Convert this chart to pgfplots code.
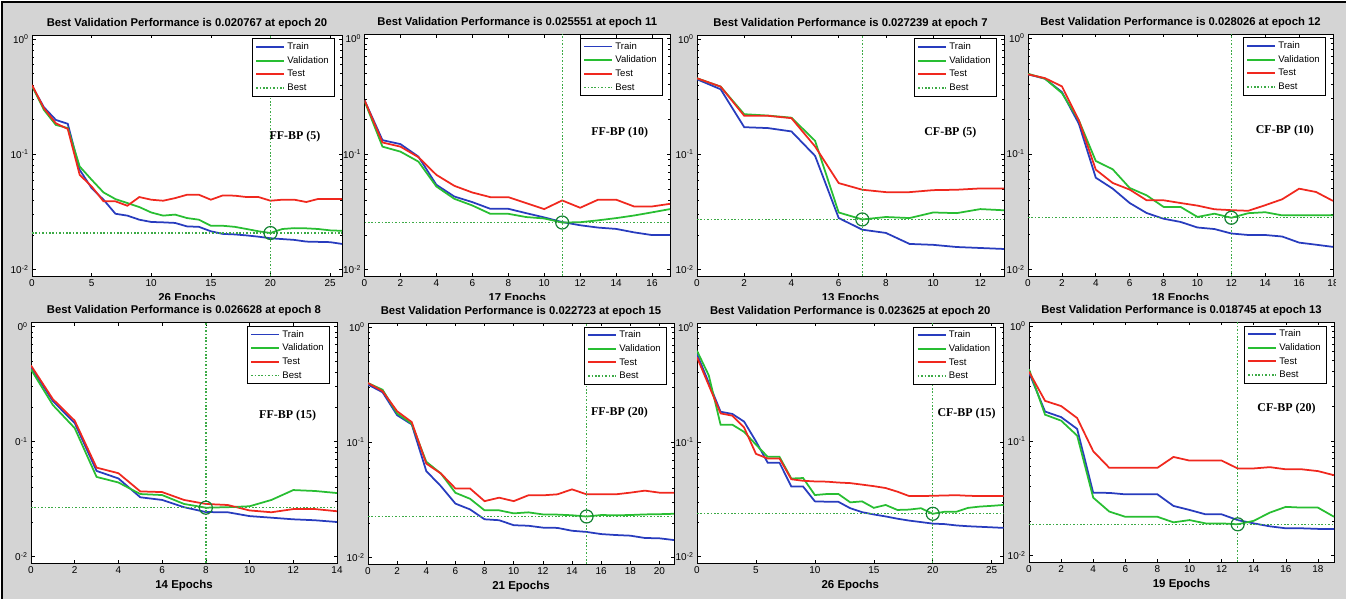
\documentclass[border=0pt]{standalone}
\usepackage{fontspec}
\setmainfont{Liberation Sans}
\newfontfamily\annfont{Liberation Serif}
\usepackage{pgfplots}
\pgfplotsset{compat=1.18}
\definecolor{bgc}{RGB}{212,212,212}
\definecolor{trc}{RGB}{40,60,190}
\definecolor{vac}{RGB}{40,190,50}
\definecolor{tec}{RGB}{240,40,30}
\definecolor{bec}{RGB}{60,170,70}
\definecolor{cic}{RGB}{20,130,50}
\pgfplotsset{
  trainline/.style={color=trc, line width=1.75bp},
  valline/.style={color=vac, line width=1.75bp},
  testline/.style={color=tec, line width=1.75bp},
  bestline/.style={color=bec, line width=1.35bp, dash pattern=on 1.6bp off 1.8bp},
  bestcirc/.style={only marks, mark=o, mark size=6.5bp, mark options={color=cic, line width=1.2bp, solid}},
}
\newcommand{\ann}[3]{\node[font=\annfont\bfseries\fontsize{12}{14}\selectfont] at (axis cs:#1,#2) {#3};}
\begin{document}
\begin{tikzpicture}
\useasboundingbox (0bp,0bp) rectangle (1346bp,599bp);
\fill[white] (0bp,0bp) rectangle (1346bp,599bp);
\fill[bgc] (2bp,0bp) rectangle (1346bp,597bp);
% ---------- P1 ----------
\begin{axis}[scale only axis, anchor=south west, at={(32bp,323bp)}, width=310bp, height=241bp,
  axis background/.style={fill=white},
  ymode=log, ymin=0.0088, ymax=1.085, xmin=0, xmax=26, xtick={0,5,...,25},
  ytick={0.01,0.1,1}, yticklabels={10\textsuperscript{-2},10\textsuperscript{-1},10\textsuperscript{0}},
  minor ytick={0.02,0.03,0.04,0.05,0.06,0.07,0.08,0.09,0.2,0.3,0.4,0.5,0.6,0.7,0.8,0.9},
  /pgf/number format/assume math mode=true,
  tick label style={font=\fontsize{10}{12}\selectfont},
  major tick length=3.5bp, minor tick length=2bp,
  every tick/.style={black, line width=0.6bp}, axis line style={black, line width=0.7bp},
  title style={font=\bfseries\fontsize{11.3}{13}\selectfont, yshift=-3bp},
  xlabel style={font=\bfseries\fontsize{11.5}{13}\selectfont},
  legend cell align=left,
  legend style={at={(1,1)}, anchor=north east, xshift=-7.5bp, yshift=-3.5bp, draw=black, line width=1bp, fill=white, font=\fontsize{9.6}{11}\selectfont, inner xsep=3bp, inner ysep=1.5bp, nodes={inner sep=2.3bp, text height=7bp, text depth=2bp}},
  legend image code/.code={\draw[#1] (0bp,0.25bp) -- (28bp,0.25bp);},
  title={Best Validation Performance is 0.020767 at epoch 20}, xlabel={26 Epochs}]
\addplot[trainline] coordinates {(0,0.392)(1,0.256)(2,0.199)(3,0.184)(4,0.0734)(5,0.0509)(6,0.0404)(7,0.0305)(8,0.0294)(9,0.0271)(10,0.0259)(11,0.0257)(12,0.0254)(13,0.0237)(14,0.0235)(15,0.0215)(16,0.0204)(17,0.0202)(18,0.0198)(19,0.0193)(20,0.0187)(21,0.0184)(22,0.0181)(23,0.0175)(24,0.0174)(25,0.0173)(26,0.0167)};
\addplot[valline] coordinates {(0,0.392)(1,0.243)(2,0.180)(3,0.169)(4,0.0785)(5,0.0602)(6,0.0467)(7,0.0409)(8,0.0378)(9,0.0349)(10,0.0313)(11,0.0294)(12,0.0300)(13,0.0280)(14,0.0271)(15,0.0240)(16,0.0240)(17,0.0235)(18,0.0225)(19,0.0215)(20,0.020767)(21,0.0225)(22,0.0229)(23,0.0228)(24,0.0225)(25,0.0219)(26,0.0217)};
\addplot[testline] coordinates {(0,0.40)(1,0.251)(2,0.186)(3,0.166)(4,0.0664)(5,0.0527)(6,0.0391)(7,0.0391)(8,0.0358)(9,0.0426)(10,0.0404)(11,0.0396)(12,0.0417)(13,0.0446)(14,0.0446)(15,0.0404)(16,0.0440)(17,0.0438)(18,0.0426)(19,0.0426)(20,0.0396)(21,0.0404)(22,0.0404)(23,0.0386)(24,0.0410)(25,0.0410)(26,0.0410)};
\addplot[bestline] coordinates {(0,0.020767)(26,0.020767)};
\addplot[bestline, forget plot] coordinates {(20,0.0088)(20,1.085)};
\addplot[bestcirc, forget plot] coordinates {(20,0.020767)};
\legend{Train,Validation,Test,Best}
\ann{22.05}{0.143}{FF-BP (5)}
\end{axis}
% ---------- P2 ----------
\begin{axis}[scale only axis, anchor=south west, at={(364.5bp,323bp)}, width=305.5bp, height=241.5bp,
  axis background/.style={fill=white},
  ymode=log, ymin=0.0088, ymax=1.085, xmin=0, xmax=17, xtick={0,2,...,16},
  ytick={0.01,0.1,1}, yticklabels={10\textsuperscript{-2},10\textsuperscript{-1},10\textsuperscript{0}},
  minor ytick={0.02,0.03,0.04,0.05,0.06,0.07,0.08,0.09,0.2,0.3,0.4,0.5,0.6,0.7,0.8,0.9},
  /pgf/number format/assume math mode=true,
  tick label style={font=\fontsize{10}{12}\selectfont},
  major tick length=3.5bp, minor tick length=2bp,
  every tick/.style={black, line width=0.6bp}, axis line style={black, line width=0.7bp},
  title style={font=\bfseries\fontsize{11.3}{13}\selectfont, yshift=-3bp},
  xlabel style={font=\bfseries\fontsize{11.5}{13}\selectfont},
  legend cell align=left,
  legend style={at={(1,1)}, anchor=north east, xshift=-7.5bp, yshift=-3.5bp, draw=black, line width=1bp, fill=white, font=\fontsize{9.6}{11}\selectfont, inner xsep=3bp, inner ysep=1.5bp, nodes={inner sep=2.3bp, text height=7bp, text depth=2bp}},
  legend image code/.code={\draw[#1] (0bp,0.25bp) -- (28bp,0.25bp);},
  title={Best Validation Performance is 0.025551 at epoch 11}, xlabel={17 Epochs}]
\addplot[trainline] coordinates {(0,0.293)(1,0.132)(2,0.122)(3,0.0951)(4,0.0542)(5,0.0429)(6,0.0384)(7,0.0336)(8,0.0336)(9,0.0308)(10,0.0283)(11,0.0258)(12,0.0242)(13,0.0231)(14,0.0225)(15,0.0210)(16,0.0199)(17,0.0199)};
\addplot[valline] coordinates {(0,0.288)(1,0.116)(2,0.105)(3,0.0861)(4,0.0524)(5,0.0410)(6,0.0359)(7,0.0304)(8,0.0304)(9,0.0285)(10,0.0277)(11,0.025551)(12,0.0257)(13,0.0267)(14,0.0279)(15,0.0294)(16,0.0313)(17,0.0334)};
\addplot[testline] coordinates {(0,0.293)(1,0.126)(2,0.116)(3,0.094)(4,0.0661)(5,0.0531)(6,0.0465)(7,0.0424)(8,0.0424)(9,0.0376)(10,0.0334)(11,0.0397)(12,0.0343)(13,0.0403)(14,0.0403)(15,0.0352)(16,0.0352)(17,0.0371)};
\addplot[bestline] coordinates {(0,0.025551)(17,0.025551)};
\addplot[bestline, forget plot] coordinates {(11,0.0088)(11,1.085)};
\addplot[bestcirc, forget plot] coordinates {(11,0.025551)};
\legend{Train,Validation,Test,Best}
\ann{14.2}{0.154}{FF-BP (10)}
\end{axis}
% ---------- P3 ----------
\begin{axis}[scale only axis, anchor=south west, at={(697bp,323bp)}, width=307bp, height=241bp,
  axis background/.style={fill=white},
  ymode=log, ymin=0.0088, ymax=1.085, xmin=0, xmax=13, xtick={0,2,...,12},
  ytick={0.01,0.1,1}, yticklabels={10\textsuperscript{-2},10\textsuperscript{-1},10\textsuperscript{0}},
  minor ytick={0.02,0.03,0.04,0.05,0.06,0.07,0.08,0.09,0.2,0.3,0.4,0.5,0.6,0.7,0.8,0.9},
  /pgf/number format/assume math mode=true,
  tick label style={font=\fontsize{10}{12}\selectfont},
  major tick length=3.5bp, minor tick length=2bp,
  every tick/.style={black, line width=0.6bp}, axis line style={black, line width=0.7bp},
  title style={font=\bfseries\fontsize{11.3}{13}\selectfont, yshift=-3bp},
  xlabel style={font=\bfseries\fontsize{11.5}{13}\selectfont},
  legend cell align=left,
  legend style={at={(1,1)}, anchor=north east, xshift=-7.5bp, yshift=-3.5bp, draw=black, line width=1bp, fill=white, font=\fontsize{9.6}{11}\selectfont, inner xsep=3bp, inner ysep=1.5bp, nodes={inner sep=2.3bp, text height=7bp, text depth=2bp}},
  legend image code/.code={\draw[#1] (0bp,0.25bp) -- (28bp,0.25bp);},
  title={Best Validation Performance is 0.027239 at epoch 7}, xlabel={13 Epochs}]
\addplot[trainline] coordinates {(0,0.448)(1,0.367)(2,0.172)(3,0.169)(4,0.158)(5,0.0970)(6,0.0280)(7,0.0222)(8,0.0208)(9,0.0167)(10,0.0164)(11,0.0157)(12,0.0154)(13,0.0151)};
\addplot[valline] coordinates {(0,0.457)(1,0.387)(2,0.223)(3,0.217)(4,0.208)(5,0.131)(6,0.0313)(7,0.027239)(8,0.0286)(9,0.0280)(10,0.0313)(11,0.0309)(12,0.0335)(13,0.0327)};
\addplot[testline] coordinates {(0,0.457)(1,0.387)(2,0.216)(3,0.216)(4,0.206)(5,0.117)(6,0.0563)(7,0.0493)(8,0.0470)(9,0.0470)(10,0.0489)(11,0.0493)(12,0.0506)(13,0.0506)};
\addplot[bestline] coordinates {(0,0.027239)(13,0.027239)};
\addplot[bestline, forget plot] coordinates {(7,0.0088)(7,1.085)};
\addplot[bestcirc, forget plot] coordinates {(7,0.027239)};
\legend{Train,Validation,Test,Best}
\ann{10.73}{0.155}{CF-BP (5)}
\end{axis}
% ---------- P4 ----------
\begin{axis}[scale only axis, anchor=south west, at={(1028bp,323bp)}, width=305bp, height=242bp,
  axis background/.style={fill=white},
  ymode=log, ymin=0.0088, ymax=1.085, xmin=0, xmax=18, xtick={0,2,...,18},
  ytick={0.01,0.1,1}, yticklabels={10\textsuperscript{-2},10\textsuperscript{-1},10\textsuperscript{0}},
  minor ytick={0.02,0.03,0.04,0.05,0.06,0.07,0.08,0.09,0.2,0.3,0.4,0.5,0.6,0.7,0.8,0.9},
  /pgf/number format/assume math mode=true,
  tick label style={font=\fontsize{10}{12}\selectfont},
  major tick length=3.5bp, minor tick length=2bp,
  every tick/.style={black, line width=0.6bp}, axis line style={black, line width=0.7bp},
  title style={font=\bfseries\fontsize{11.3}{13}\selectfont, yshift=-3bp},
  xlabel style={font=\bfseries\fontsize{11.5}{13}\selectfont},
  legend cell align=left,
  legend style={at={(1,1)}, anchor=north east, xshift=-7.5bp, yshift=-3.5bp, draw=black, line width=1bp, fill=white, font=\fontsize{9.6}{11}\selectfont, inner xsep=3bp, inner ysep=1.5bp, nodes={inner sep=2.3bp, text height=7bp, text depth=2bp}},
  legend image code/.code={\draw[#1] (0bp,0.25bp) -- (28bp,0.25bp);},
  title={Best Validation Performance is 0.028026 at epoch 12}, xlabel={18 Epochs}]
\addplot[trainline] coordinates {(0,0.486)(1,0.446)(2,0.342)(3,0.182)(4,0.0622)(5,0.0500)(6,0.0376)(7,0.0308)(8,0.0275)(9,0.0258)(10,0.0231)(11,0.0224)(12,0.0205)(13,0.0199)(14,0.0199)(15,0.0193)(16,0.0171)(17,0.0164)(18,0.0157)};
\addplot[valline] coordinates {(0,0.492)(1,0.446)(2,0.335)(3,0.195)(4,0.0867)(5,0.0735)(6,0.0507)(7,0.0438)(8,0.0348)(9,0.0348)(10,0.0285)(11,0.0304)(12,0.028026)(13,0.0307)(14,0.0313)(15,0.0294)(16,0.0294)(17,0.0294)(18,0.0294)};
\addplot[testline] coordinates {(0,0.486)(1,0.451)(2,0.383)(3,0.195)(4,0.0730)(5,0.0560)(6,0.0491)(7,0.0397)(8,0.0397)(9,0.0376)(10,0.0357)(11,0.0332)(12,0.0326)(13,0.0322)(14,0.036)(15,0.0405)(16,0.0500)(17,0.0468)(18,0.0392)};
\addplot[bestline] coordinates {(0,0.028026)(18,0.028026)};
\addplot[bestline, forget plot] coordinates {(12,0.0088)(12,1.085)};
\addplot[bestcirc, forget plot] coordinates {(12,0.028026)};
\legend{Train,Validation,Test,Best}
\ann{15.16}{0.160}{CF-BP (10)}
\end{axis}
% cover for lower row
\fill[bgc] (2bp,0bp) rectangle (1346bp,299bp);
\fill[bgc] (1336bp,299bp) rectangle (1346bp,597bp);
% ---------- P5 ----------
\begin{axis}[scale only axis, anchor=south west, at={(31bp,36bp)}, width=306bp, height=240.5bp,
  axis background/.style={fill=white},
  ymode=log, ymin=0.0088, ymax=1.085, xmin=0, xmax=14, xtick={0,2,...,14},
  ytick={0.01,0.1,1}, yticklabels={0\textsuperscript{-2},0\textsuperscript{-1},0\textsuperscript{0}},
  minor ytick={0.02,0.03,0.04,0.05,0.06,0.07,0.08,0.09,0.2,0.3,0.4,0.5,0.6,0.7,0.8,0.9},
  /pgf/number format/assume math mode=true,
  tick label style={font=\fontsize{10}{12}\selectfont},
  major tick length=3.5bp, minor tick length=2bp,
  every tick/.style={black, line width=0.6bp}, axis line style={black, line width=0.7bp},
  title style={font=\bfseries\fontsize{11.3}{13}\selectfont, yshift=-3bp},
  xlabel style={font=\bfseries\fontsize{11.5}{13}\selectfont},
  legend cell align=left,
  legend style={at={(1,1)}, anchor=north east, xshift=-7.5bp, yshift=-3.5bp, draw=black, line width=1bp, fill=white, font=\fontsize{9.6}{11}\selectfont, inner xsep=3bp, inner ysep=1.5bp, nodes={inner sep=2.3bp, text height=7bp, text depth=2bp}},
  legend image code/.code={\draw[#1] (0bp,0.25bp) -- (28bp,0.25bp);},
  title={Best Validation Performance is 0.026628 at epoch 8}, xlabel={14 Epochs}]
\addplot[trainline] coordinates {(0,0.444)(1,0.225)(2,0.145)(3,0.0556)(4,0.0478)(5,0.0328)(6,0.0311)(7,0.0269)(8,0.0244)(9,0.0243)(10,0.0225)(11,0.0218)(12,0.0211)(13,0.0207)(14,0.0200)};
\addplot[valline] coordinates {(0,0.424)(1,0.208)(2,0.131)(3,0.0493)(4,0.0441)(5,0.0350)(6,0.0343)(7,0.0287)(8,0.026628)(9,0.0269)(10,0.0274)(11,0.0311)(12,0.0379)(13,0.0372)(14,0.0357)};
\addplot[testline] coordinates {(0,0.459)(1,0.234)(2,0.152)(3,0.0594)(4,0.0531)(5,0.0369)(6,0.0364)(7,0.0311)(8,0.0287)(9,0.0281)(10,0.0252)(11,0.0243)(12,0.0259)(13,0.0259)(14,0.0248)};
\addplot[bestline] coordinates {(0,0.026628)(14,0.026628)};
\addplot[bestline, forget plot] coordinates {(8,0.0088)(8,1.085)};
\addplot[bestcirc, forget plot] coordinates {(8,0.026628)};
\legend{Train,Validation,Test,Best}
\ann{11.74}{0.168}{FF-BP (15)}
\end{axis}
% ---------- P6 ----------
\begin{axis}[scale only axis, anchor=south west, at={(368bp,35bp)}, width=306bp, height=241bp,
  axis background/.style={fill=white},
  ymode=log, ymin=0.0088, ymax=1.085, xmin=0, xmax=21, xtick={0,2,...,20},
  ytick={0.01,0.1,1}, yticklabels={10\textsuperscript{-2},10\textsuperscript{-1},10\textsuperscript{0}},
  minor ytick={0.02,0.03,0.04,0.05,0.06,0.07,0.08,0.09,0.2,0.3,0.4,0.5,0.6,0.7,0.8,0.9},
  /pgf/number format/assume math mode=true,
  tick label style={font=\fontsize{10}{12}\selectfont},
  major tick length=3.5bp, minor tick length=2bp,
  every tick/.style={black, line width=0.6bp}, axis line style={black, line width=0.7bp},
  title style={font=\bfseries\fontsize{11.3}{13}\selectfont, yshift=-3bp},
  xlabel style={font=\bfseries\fontsize{11.5}{13}\selectfont},
  legend cell align=left,
  legend style={at={(1,1)}, anchor=north east, xshift=-7.5bp, yshift=-3.5bp, draw=black, line width=1bp, fill=white, font=\fontsize{9.6}{11}\selectfont, inner xsep=3bp, inner ysep=1.5bp, nodes={inner sep=2.3bp, text height=7bp, text depth=2bp}},
  legend image code/.code={\draw[#1] (0bp,0.25bp) -- (28bp,0.25bp);},
  title={Best Validation Performance is 0.022723 at epoch 15}, xlabel={21 Epochs}]
\addplot[trainline] coordinates {(0,0.317)(1,0.272)(2,0.172)(3,0.143)(4,0.0563)(5,0.0417)(6,0.0294)(7,0.0262)(8,0.0215)(9,0.0211)(10,0.0191)(11,0.0189)(12,0.0182)(13,0.0181)(14,0.0171)(15,0.0167)(16,0.0160)(17,0.0157)(18,0.0155)(19,0.0148)(20,0.0147)(21,0.0142)};
\addplot[valline] coordinates {(0,0.327)(1,0.286)(2,0.178)(3,0.145)(4,0.0678)(5,0.0537)(6,0.0365)(7,0.0324)(8,0.0257)(9,0.0257)(10,0.0242)(11,0.0247)(12,0.0237)(13,0.0236)(14,0.0233)(15,0.022723)(16,0.0234)(17,0.0233)(18,0.0234)(19,0.0237)(20,0.0238)(21,0.0240)};
\addplot[testline] coordinates {(0,0.327)(1,0.278)(2,0.186)(3,0.150)(4,0.0654)(5,0.0537)(6,0.0398)(7,0.0398)(8,0.0309)(9,0.0331)(10,0.0309)(11,0.0347)(12,0.0347)(13,0.0354)(14,0.0391)(15,0.0354)(16,0.0354)(17,0.0354)(18,0.0366)(19,0.0381)(20,0.0366)(21,0.0366)};
\addplot[bestline] coordinates {(0,0.022723)(21,0.022723)};
\addplot[bestline, forget plot] coordinates {(15,0.0088)(15,1.085)};
\addplot[bestcirc, forget plot] coordinates {(15,0.022723)};
\legend{Train,Validation,Test,Best}
\ann{17.26}{0.180}{FF-BP (20)}
\end{axis}
% ---------- P7 ----------
\begin{axis}[scale only axis, anchor=south west, at={(697bp,36bp)}, width=306.5bp, height=240bp,
  axis background/.style={fill=white},
  ymode=log, ymin=0.0088, ymax=1.085, xmin=0, xmax=26, xtick={0,5,...,25},
  ytick={0.01,0.1,1}, yticklabels={10\textsuperscript{-2},10\textsuperscript{-1},10\textsuperscript{0}},
  minor ytick={0.02,0.03,0.04,0.05,0.06,0.07,0.08,0.09,0.2,0.3,0.4,0.5,0.6,0.7,0.8,0.9},
  /pgf/number format/assume math mode=true,
  tick label style={font=\fontsize{10}{12}\selectfont},
  major tick length=3.5bp, minor tick length=2bp,
  every tick/.style={black, line width=0.6bp}, axis line style={black, line width=0.7bp},
  title style={font=\bfseries\fontsize{11.3}{13}\selectfont, yshift=-3bp},
  xlabel style={font=\bfseries\fontsize{11.5}{13}\selectfont},
  legend cell align=left,
  legend style={at={(1,1)}, anchor=north east, xshift=-7.5bp, yshift=-3.5bp, draw=black, line width=1bp, fill=white, font=\fontsize{9.6}{11}\selectfont, inner xsep=3bp, inner ysep=1.5bp, nodes={inner sep=2.3bp, text height=7bp, text depth=2bp}},
  legend image code/.code={\draw[#1] (0bp,0.25bp) -- (28bp,0.25bp);},
  title={Best Validation Performance is 0.023625 at epoch 20}, xlabel={26 Epochs}]
\addplot[trainline] coordinates {(0,0.582)(1,0.327)(2,0.183)(3,0.175)(4,0.150)(5,0.101)(6,0.0657)(7,0.0657)(8,0.0408)(9,0.0408)(10,0.0303)(11,0.0301)(12,0.0300)(13,0.0264)(14,0.0244)(15,0.0233)(16,0.0224)(17,0.0214)(18,0.0206)(19,0.0200)(20,0.0194)(21,0.0192)(22,0.0187)(23,0.0184)(24,0.0182)(25,0.0180)(26,0.0178)};
\addplot[valline] coordinates {(0,0.621)(1,0.379)(2,0.141)(3,0.141)(4,0.122)(5,0.0946)(6,0.0740)(7,0.0740)(8,0.0479)(9,0.0484)(10,0.0344)(11,0.0351)(12,0.0351)(13,0.0297)(14,0.0303)(15,0.0266)(16,0.0282)(17,0.0255)(18,0.0257)(19,0.0264)(20,0.023625)(21,0.0246)(22,0.0246)(23,0.0266)(24,0.0273)(25,0.0277)(26,0.0282)};
\addplot[testline] coordinates {(0,0.545)(1,0.311)(2,0.177)(3,0.169)(4,0.133)(5,0.0786)(6,0.0716)(7,0.0716)(8,0.0472)(9,0.0458)(10,0.0452)(11,0.0450)(12,0.0442)(13,0.0437)(14,0.0424)(15,0.0411)(16,0.0396)(17,0.0368)(18,0.0337)(19,0.0337)(20,0.0339)(21,0.0341)(22,0.0343)(23,0.0339)(24,0.0337)(25,0.0337)(26,0.0337)};
\addplot[bestline] coordinates {(0,0.023625)(26,0.023625)};
\addplot[bestline, forget plot] coordinates {(20,0.0088)(20,1.085)};
\addplot[bestcirc, forget plot] coordinates {(20,0.023625)};
\legend{Train,Validation,Test,Best}
\ann{22.87}{0.177}{CF-BP (15)}
\end{axis}
% ---------- P8 ----------
\begin{axis}[scale only axis, anchor=south west, at={(1029bp,37bp)}, width=305bp, height=240bp,
  axis background/.style={fill=white},
  ymode=log, ymin=0.0088, ymax=1.085, xmin=0, xmax=19, xtick={0,2,...,18},
  ytick={0.01,0.1,1}, yticklabels={10\textsuperscript{-2},10\textsuperscript{-1},10\textsuperscript{0}},
  minor ytick={0.02,0.03,0.04,0.05,0.06,0.07,0.08,0.09,0.2,0.3,0.4,0.5,0.6,0.7,0.8,0.9},
  /pgf/number format/assume math mode=true,
  tick label style={font=\fontsize{10}{12}\selectfont},
  major tick length=3.5bp, minor tick length=2bp,
  every tick/.style={black, line width=0.6bp}, axis line style={black, line width=0.7bp},
  title style={font=\bfseries\fontsize{11.3}{13}\selectfont, yshift=-3bp},
  xlabel style={font=\bfseries\fontsize{11.5}{13}\selectfont},
  legend cell align=left,
  legend style={at={(1,1)}, anchor=north east, xshift=-7.5bp, yshift=-3.5bp, draw=black, line width=1bp, fill=white, font=\fontsize{9.6}{11}\selectfont, inner xsep=3bp, inner ysep=1.5bp, nodes={inner sep=2.3bp, text height=7bp, text depth=2bp}},
  legend image code/.code={\draw[#1] (0bp,0.25bp) -- (28bp,0.25bp);},
  title={Best Validation Performance is 0.018745 at epoch 13}, xlabel={19 Epochs}]
\addplot[trainline] coordinates {(0,0.394)(1,0.180)(2,0.161)(3,0.127)(4,0.0353)(5,0.0352)(6,0.0342)(7,0.0342)(8,0.0342)(9,0.0271)(10,0.0250)(11,0.0229)(12,0.0229)(13,0.0204)(14,0.0191)(15,0.0180)(16,0.0173)(17,0.0173)(18,0.0171)(19,0.0171)};
\addplot[valline] coordinates {(0,0.421)(1,0.169)(2,0.150)(3,0.111)(4,0.0320)(5,0.0242)(6,0.0218)(7,0.0218)(8,0.0218)(9,0.0195)(10,0.0204)(11,0.0191)(12,0.0191)(13,0.018745)(14,0.0201)(15,0.0237)(16,0.0266)(17,0.0262)(18,0.0262)(19,0.0218)};
\addplot[testline] coordinates {(0,0.400)(1,0.223)(2,0.201)(3,0.158)(4,0.0812)(5,0.0582)(6,0.0582)(7,0.0582)(8,0.0582)(9,0.0724)(10,0.0673)(11,0.0673)(12,0.0673)(13,0.0575)(14,0.0575)(15,0.0590)(16,0.0565)(17,0.0565)(18,0.0545)(19,0.0502)};
\addplot[bestline] coordinates {(0,0.018745)(19,0.018745)};
\addplot[bestline, forget plot] coordinates {(13,0.0088)(13,1.085)};
\addplot[bestcirc, forget plot] coordinates {(13,0.018745)};
\legend{Train,Validation,Test,Best}
\ann{16.04}{0.190}{CF-BP (20)}
\end{axis}
\draw[black, line width=1.3bp] (2bp,0bp) -- (2bp,597bp) -- (1346bp,597bp);
\end{tikzpicture}
\end{document}
